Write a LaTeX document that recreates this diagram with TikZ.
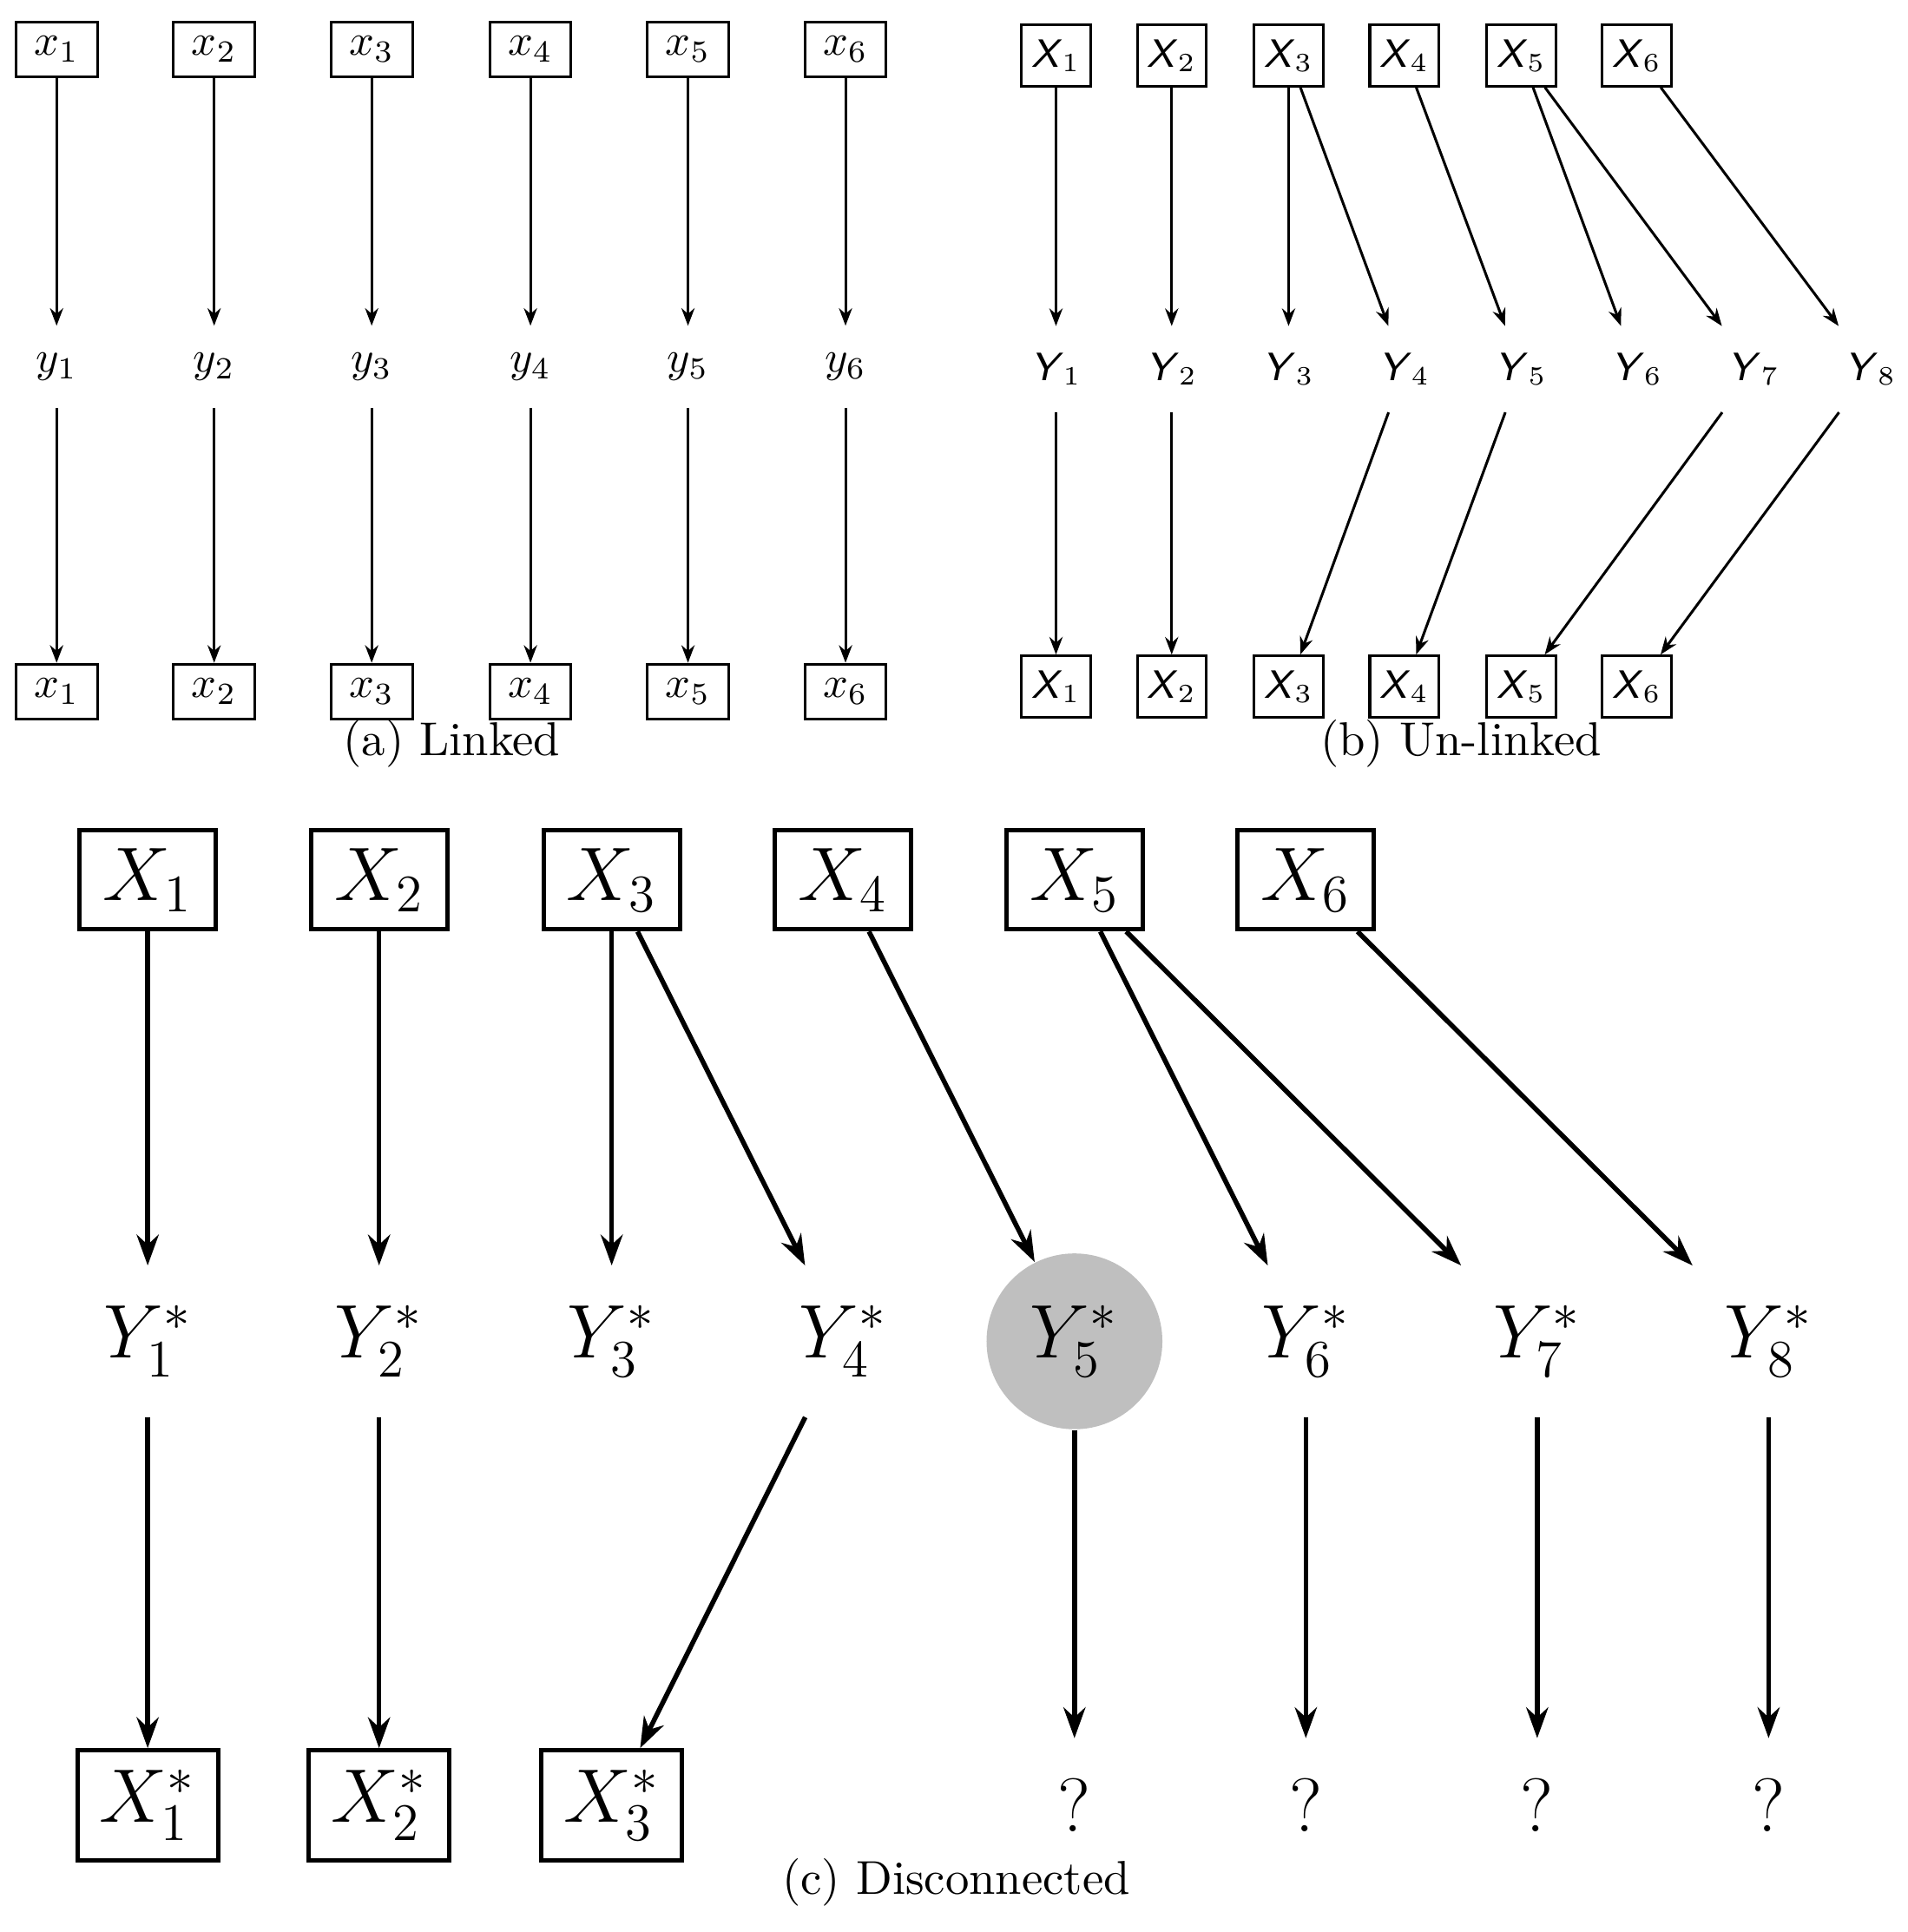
\documentclass[tikz,border=0pt]{standalone}
\usepackage{amsmath}
\usepackage{amssymb}
\usetikzlibrary{arrows.meta}

\tikzset{
  boxA/.style={draw,line width=0.6pt,minimum width=18.5pt,minimum height=12.5pt,inner sep=1pt},
  boxB/.style={draw,line width=0.6pt,minimum width=15.7pt,minimum height=14pt,inner sep=1pt,font=\small},
  boxC/.style={draw,line width=1pt,minimum width=31pt,minimum height=22.5pt,inner sep=1pt,font=\LARGE},
  boxCs/.style={draw,line width=1pt,minimum width=32pt,minimum height=25pt,inner sep=1pt,font=\LARGE},
  lab/.style={inner sep=6pt},
  labB/.style={inner sep=6pt,font=\small},
  labC/.style={inner sep=9pt,font=\LARGE},
  capt/.style={font=\fontsize{10.8}{13}\selectfont},
  arA/.style={-{Stealth[length=4pt,width=3pt]},line width=0.6pt},
  arC/.style={-{Stealth[length=7pt,width=5pt]},line width=1.1pt}
}
\newcommand{\sfv}[2]{\textsl{\textsf{#1}}$_{#2}$}

\begin{document}
\begin{tikzpicture}[x=0.28pt,y=-0.28pt]
\useasboundingbox (0,0) rectangle (1550,1570);

%(a) linked
\foreach \i/\x in {1/46,2/174,3/302,4/431,5/559,6/687}{
  \node[boxA] (ax\i) at (\x,40) {$x_\i$};
  \node[lab] (ay\i) at (\x,298) {$y_\i$};
  \node[boxA] (az\i) at (\x,562) {$x_\i$};
  \draw[arA] (ax\i) -- (ay\i);
  \draw[arA] (ay\i) -- (az\i);
}
\node[capt] (capa) at (367,604) {(a)~Linked};

%(b) un-linked
\foreach \i/\x in {1/858,2/952,3/1047,4/1141,5/1236,6/1330}{
  \node[boxB] (bx\i) at (\x,45) {\sfv{X}{\i}};
  \node[boxB] (bz\i) at (\x,558) {\sfv{X}{\i}};
}
\foreach \i/\x in {1/858,2/952,3/1047,4/1141,5/1236,6/1330,7/1425,8/1520}
  \node[labB] (by\i) at (\x,300) {\sfv{Y}{\i}};
\foreach \a/\b in {1/1,2/2,3/3,3/4,4/5,5/6,5/7,6/8}
  \draw[arA] (bx\a) -- (by\b);
\foreach \a/\b in {1/1,2/2,4/3,5/4,7/5,8/6}
  \draw[arA] (by\a) -- (bz\b);
\node[capt] (capb) at (1187,604) {(b)~Un-linked};

%(c) disconnected
\foreach \i/\x in {1/120,2/308,3/497,4/685,5/873,6/1061}
  \node[boxC] (cx\i) at (\x,715) {$X_\i$};
\foreach \i/\x in {1/120,2/308,3/497,4/685,6/1061,7/1249,8/1437}
  \node[labC] (cy\i) at (\x,1090) {$Y_\i^*$};
\node[circle,fill=black!25,minimum size=40pt,inner sep=0pt,font=\LARGE] (cy5) at (873,1090) {$Y_5^*$};
\foreach \i/\x in {1/120,2/308,3/497}
  \node[boxCs] (cz\i) at (\x,1467) {$X_\i^*$};
\foreach \i/\x in {5/873,6/1061,7/1249,8/1437}
  \node[labC] (cq\i) at (\x,1467) {?};
\foreach \a/\b in {1/1,2/2,3/3,3/4,4/5,5/6,5/7,6/8}
  \draw[arC] (cx\a) -- (cy\b);
\foreach \a/\b in {1/1,2/2,4/3}
  \draw[arC] (cy\a) -- (cz\b);
\foreach \a in {5,6,7,8}
  \draw[arC] (cy\a) -- (cq\a);
\node[capt] (capc) at (777,1530) {(c)~Disconnected};
\end{tikzpicture}
\end{document}
